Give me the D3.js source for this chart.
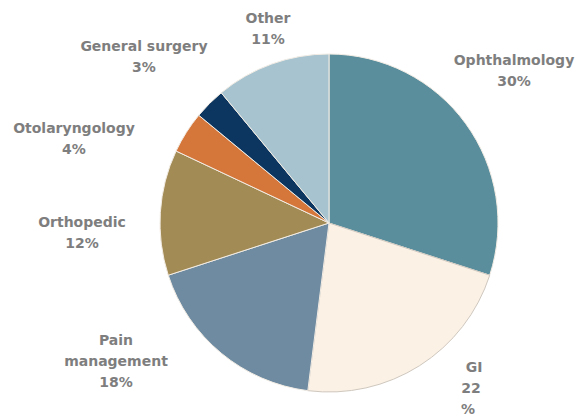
<!DOCTYPE html>
<html>
<head>
<meta charset="utf-8">
<script src="https://cdn.jsdelivr.net/npm/d3@7"></script>
<style>
  html, body { margin: 0; padding: 0; background: #fff; }
  svg { display: block; }
</style>
</head>
<body>
<div id="chart"></div>
<script>
// Slices, clockwise from 12 o'clock
const categories = ['Ophthalmology', 'GI', 'Pain management', 'Orthopedic', 'Otolaryngology', 'General surgery', 'Other'];
const shares     = [30, 22, 18, 12, 4, 3, 11];
const colors     = ['#5a8e9c', '#fcf1e5', '#6e8ba1', '#a38b55', '#d5773b', '#0c365f', '#a6c3cf'];

// Label text lines (as wrapped in the original)
const labelLines = [
  ['Ophthalmology', '30%'],
  ['GI', '22', '%'],
  ['Pain', 'management', '18%'],
  ['Orthopedic', '12%'],
  ['Otolaryngology', '4%'],
  ['General surgery', '3%'],
  ['Other', '11%'],
];

// Label layout: centre x, first-line centre y
const labelPos = [
  [514, 60], [474, 367], [116, 340], [82, 222], [74, 128], [144, 46], [268, 18],
];

const W = 582, H = 416;
const cx = 329, cy = 223, R = 169;
const lineH = 21;

const svg = d3.select('#chart').append('svg')
  .attr('width', W).attr('height', H);

const pie = d3.pie().sort(null).value(d => d)(shares);
const arc = d3.arc().innerRadius(0).outerRadius(R);

const g = svg.append('g').attr('transform', `translate(${cx},${cy})`);

g.selectAll('path').data(pie).join('path')
  .attr('d', arc)
  .attr('fill', (d, i) => colors[i])
  .attr('stroke', (d, i) => i === 1 ? '#cfc8bf' : '#f2ece4')
  .attr('stroke-width', 1);

// Labels
const lab = svg.append('g')
  .attr('font-family', '"DejaVu Sans", sans-serif')
  .attr('font-weight', 'bold')
  .attr('font-size', 14)
  .attr('fill', '#7e7e7e')
  .attr('text-anchor', 'middle');

labelLines.forEach((lines, i) => {
  const [x, y] = labelPos[i];
  lines.forEach((t, j) => {
    lab.append('text')
      .attr('x', x - (i === 1 ? j * 3 : 0))
      .attr('y', y + j * lineH)
      .attr('dy', '0.36em')
      .text(t);
  });
});
</script>
</body>
</html>
